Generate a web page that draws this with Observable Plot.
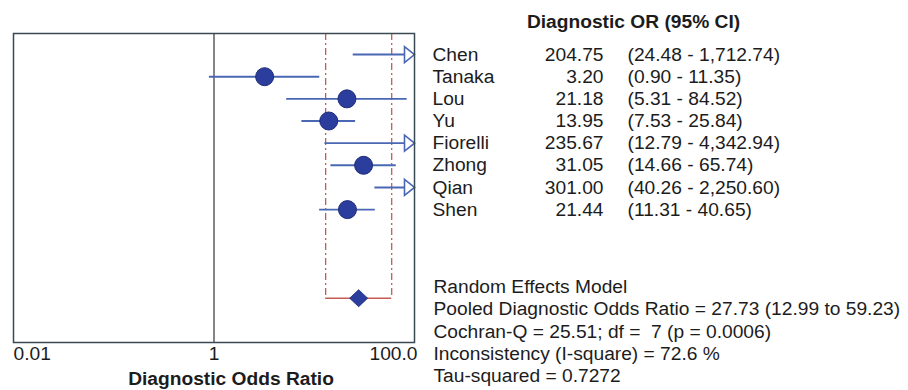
<!DOCTYPE html>
<html>
<head>
<meta charset="utf-8">
<script src="https://cdn.jsdelivr.net/npm/d3@7"></script>
<script src="https://cdn.jsdelivr.net/npm/@observablehq/plot@0.6"></script>
<style>
  html, body { margin: 0; padding: 0; background: #ffffff; }
</style>
</head>
<body>
<div id="chart"></div>
<script>
// ---- data ----
const studies = ["Chen", "Tanaka", "Lou", "Yu", "Fiorelli", "Zhong", "Qian", "Shen"];
const oddsRatios = [204.75, 3.20, 21.18, 13.95, 235.67, 31.05, 301.00, 21.44];
const ciLower = [24.48, 0.90, 5.31, 7.53, 12.79, 14.66, 40.26, 11.31];
const ciUpper = [1712.74, 11.35, 84.52, 25.84, 4342.94, 65.74, 2250.60, 40.65];
const pooledValues = [27.73, 12.99, 59.23]; // estimate, lower, upper
const summaryLines = [
  "Random Effects Model",
  "Pooled Diagnostic Odds Ratio = 27.73 (12.99 to 59.23)",
  "Cochran-Q = 25.51; df = \u00a07 (p = 0.0006)",
  "Inconsistency (I-square) = 72.6 %",
  "Tau-squared = 0.7272"
];
const xTicks = [0.01, 1, 100];
const xTickLabels = ["0.01", "1", "100.0"];
const headerText = "Diagnostic OR (95% CI)";
const axisTitle = "Diagnostic Odds Ratio";

// ---- derived table ----
const xMax = 100;
const rows = studies.map((s, i) => ({
  study: s, row: i, or: oddsRatios[i], lo: ciLower[i], hi: ciUpper[i],
  hiClip: Math.min(ciUpper[i], xMax), off: ciUpper[i] > xMax
}));
const pooledRow = 11;
const pooled = [{or: pooledValues[0], lo: pooledValues[1], hi: pooledValues[2], row: pooledRow}];

const fmt2 = d3.format(".2f");
const fmtC = d3.format(",.2f");

const blue = "#4a67b3";
const dotFill = "#2b3e9e";
const dotStroke = "#1d2a78";
const red = "#c65a55";
const ink = "#1c1c1c";
const font = "'Liberation Sans', Arial, Helvetica, sans-serif";
const fs = 19.2;

const arrowSymbol = {
  draw(ctx) {
    ctx.moveTo(0, 0);
    ctx.lineTo(-10, -8);
    ctx.lineTo(-10, 8);
    ctx.closePath();
  }
};
const diamondSymbol = {
  draw(ctx) {
    ctx.moveTo(0, -8.5);
    ctx.lineTo(9, 0);
    ctx.lineTo(0, 8.5);
    ctx.lineTo(-9, 0);
    ctx.closePath();
  }
};

const anchors = ["start", "middle", "end"];

const chart = Plot.plot({
  width: 908,
  height: 390,
  marginLeft: 13,
  marginRight: 494,
  marginTop: 33,
  marginBottom: 48,
  style: {fontFamily: font, fontSize: fs + "px", background: "#ffffff", overflow: "visible"},
  x: {type: "log", domain: [0.01, 100], range: [13, 414], axis: null},
  y: {domain: [-0.95, 13], range: [33, 342], axis: null},
  marks: [
    Plot.ruleX(xTicks.slice(1, 2), {stroke: "#333", strokeWidth: 1.2}),
    Plot.ruleX([pooledValues[1], pooledValues[2]], {y1: -0.95, y2: pooledRow, stroke: red, strokeWidth: 1.3, strokeDasharray: "7,3,2,3"}),
    Plot.ruleY(pooled, {y: "row", x1: "lo", x2: "hi", stroke: red, strokeWidth: 1.4}),
    Plot.ruleY(rows, {y: "row", x1: "lo", x2: "hiClip", stroke: blue, strokeWidth: 1.9}),
    Plot.dot(rows.filter(d => d.off), {x: () => xMax, y: "row", symbol: arrowSymbol, r: 5, fill: "#ffffff", stroke: blue, strokeWidth: 1.6}),
    Plot.dot(rows.filter(d => d.or <= xMax), {x: "or", y: "row", r: 9, fill: dotFill, stroke: dotStroke, strokeWidth: 1}),
    Plot.dot(pooled, {x: "or", y: "row", symbol: diamondSymbol, r: 5, fill: dotFill, stroke: dotStroke, strokeWidth: 0.8}),
    Plot.frame({stroke: "#3a4a52", strokeWidth: 1.5}),
    // right-hand table
    Plot.text([headerText], {x: () => xMax, y: () => -1.49, dx: 219, text: d => d, textAnchor: "middle", fontWeight: "bold", fontSize: fs, fill: ink}),
    Plot.text(rows, {x: () => xMax, y: "row", dx: 18, text: "study", textAnchor: "start", fontSize: fs, fill: ink}),
    Plot.text(rows, {x: () => xMax, y: "row", dx: 189, text: d => fmt2(d.or), textAnchor: "end", fontSize: fs, fill: ink}),
    Plot.text(rows, {x: () => xMax, y: "row", dx: 213, text: d => `(${fmtC(d.lo)} - ${fmtC(d.hi)})`, textAnchor: "start", fontSize: fs, fill: ink}),
    Plot.text(summaryLines, {x: () => xMax, y: (d, i) => 10.5 + i, dx: 19, text: d => d, textAnchor: "start", fontSize: fs, fill: ink}),
    // axis tick labels
    ...xTicks.map((t, i) => Plot.text([t], {x: d => d, y: () => 13.5, text: [xTickLabels[i]], textAnchor: anchors[i], dx: i === 2 ? 3 : 0, fontSize: fs, fill: ink})),
    Plot.text([axisTitle], {x: () => 1, y: () => 14.63, dx: 17, text: d => d, textAnchor: "middle", fontWeight: "bold", fontSize: fs, fill: ink})
  ]
});
document.getElementById("chart").appendChild(chart);
</script>
</body>
</html>
